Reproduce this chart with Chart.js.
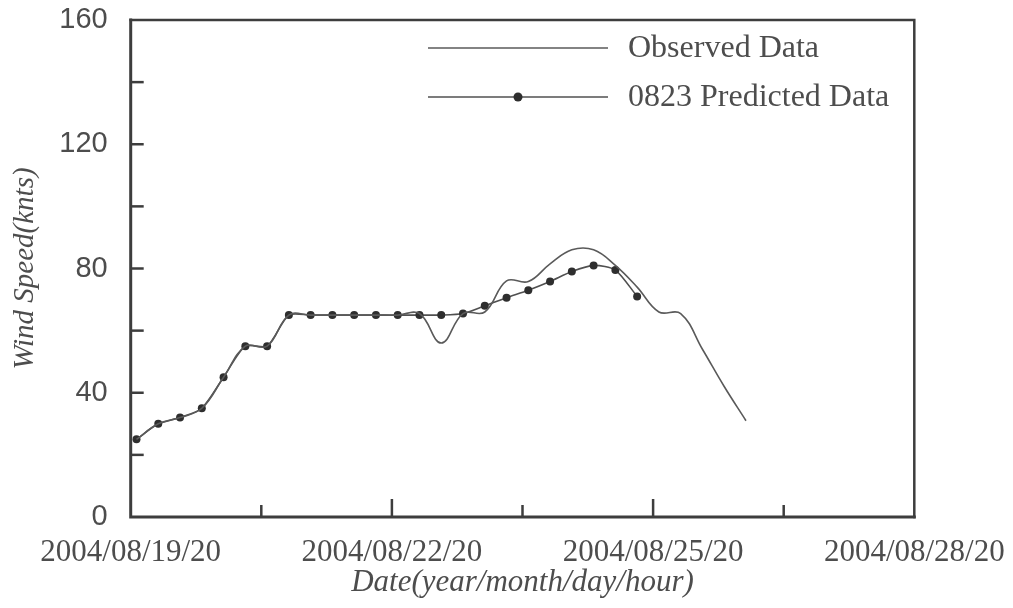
<!DOCTYPE html>
<html>
<head>
<meta charset="utf-8">
<script src="https://cdn.jsdelivr.net/npm/chart.js@4.4.1/dist/chart.umd.min.js"></script>
<style>
  html, body { margin: 0; padding: 0; background: #fff; }
</style>
</head>
<body>
<canvas id="myChart" width="1013" height="608"></canvas>
<script>
// hours after 2004/08/19/20
var tickHours = [0, 72, 144, 216];
var tickLabels = ["2004/08/19/20", "2004/08/22/20", "2004/08/25/20", "2004/08/28/20"];

var obsHours = [1.6, 7.6, 13.6, 19.6, 25.6, 31.6, 37.6, 43.6, 49.6, 55.6, 61.6, 67.6, 73.6, 79.6, 85.6,
                91.6, 97.6, 103.6, 109.6, 115.6, 121.6, 127.6, 133.6, 139.6, 145.6, 151.6, 157.6, 163.6, 169.6];
var observed = [25, 30, 32, 35, 45, 55, 55, 65, 65, 65, 65, 65, 65, 65.5, 56,
                65.5, 66, 76, 75.8, 81.5, 86, 86, 81, 74, 66, 65.5, 54, 42, 31];

var predHours = [1.6, 7.6, 13.6, 19.6, 25.6, 31.6, 37.6, 43.6, 49.6, 55.6, 61.6, 67.6, 73.6, 79.6, 85.6,
                 91.6, 97.6, 103.6, 109.6, 115.6, 121.6, 127.6, 133.6, 139.6];
var predicted = [25, 30, 32, 35, 45, 55, 55, 65, 65, 65, 65, 65, 65, 65, 65,
                 65.5, 68, 70.6, 73, 75.8, 79, 81, 79.5, 71];

function pairs(xs, ys) {
  return xs.map(function (x, i) { return { x: x, y: ys[i] }; });
}

var axisColor = "#3d3d3d";
var textColor = "#4d4d4d";

// box around the plot plus the short inward ticks
var framePlugin = {
  id: "frame",
  afterDraw: function (chart) {
    var ctx = chart.ctx, a = chart.chartArea;
    var xs = chart.scales.x, ys = chart.scales.y;
    ctx.save();
    ctx.strokeStyle = axisColor;
    ctx.lineCap = "square";
    ctx.lineWidth = 2.5;
    ctx.beginPath();
    ctx.moveTo(a.left, a.top); ctx.lineTo(a.right, a.top); ctx.lineTo(a.right, a.bottom);
    ctx.stroke();
    ctx.lineWidth = 3;
    ctx.beginPath();
    ctx.moveTo(a.left, a.top); ctx.lineTo(a.left, a.bottom); ctx.lineTo(a.right, a.bottom);
    ctx.stroke();

    ctx.lineWidth = 2.5;
    ctx.lineCap = "butt";
    ys.ticks.forEach(function (t) {
      if (t.value <= ys.min || t.value >= ys.max) return;
      var y = ys.getPixelForValue(t.value);
      ctx.beginPath(); ctx.moveTo(a.left, y); ctx.lineTo(a.left + 13, y); ctx.stroke();
    });
    xs.ticks.forEach(function (t) {
      if (t.value <= xs.min || t.value >= xs.max) return;
      var x = xs.getPixelForValue(t.value);
      var len = tickHours.indexOf(t.value) >= 0 ? 18 : 12;
      ctx.beginPath(); ctx.moveTo(x, a.bottom); ctx.lineTo(x, a.bottom - len); ctx.stroke();
    });
    ctx.restore();
  }
};

// legend inside the plot, top right
var legendPlugin = {
  id: "insideLegend",
  afterDraw: function (chart) {
    var ctx = chart.ctx;
    var rows = [48, 97];
    chart.data.datasets.forEach(function (ds, i) {
      var y = rows[i];
      ctx.save();
      ctx.strokeStyle = ds.borderColor;
      ctx.lineWidth = ds.borderWidth;
      ctx.beginPath(); ctx.moveTo(428, y); ctx.lineTo(608, y); ctx.stroke();
      if (ds.pointRadius > 0) {
        ctx.fillStyle = ds.pointBackgroundColor;
        ctx.beginPath(); ctx.arc(518, y, ds.pointRadius + 0.5, 0, Math.PI * 2); ctx.fill();
      }
      ctx.fillStyle = textColor;
      ctx.font = '32px "Liberation Serif"';
      ctx.textBaseline = "middle";
      ctx.fillText(ds.label, 628, y + 1);
      ctx.restore();
    });
  }
};

// keep the plot box where the layout padding puts it
function noLabelPadding(s) {
  s.paddingTop = 0; s.paddingBottom = 0; s.paddingLeft = 0; s.paddingRight = 0;
}

var ctx = document.getElementById("myChart");
var myChart = new Chart(ctx, {
  type: "line",
  data: {
    datasets: [
      {
        label: "Observed Data",
        data: pairs(obsHours, observed),
        borderColor: "#5a5a5a",
        borderWidth: 1.6,
        pointRadius: 0,
        tension: 0.4,
        fill: false
      },
      {
        label: "0823 Predicted Data",
        data: pairs(predHours, predicted),
        borderColor: "#505050",
        borderWidth: 1.6,
        pointRadius: 4,
        pointBackgroundColor: "#2e2e2e",
        pointBorderWidth: 0,
        tension: 0.25,
        fill: false
      }
    ]
  },
  options: {
    responsive: false,
    animation: false,
    layout: { padding: { top: 20, right: 98.7, left: 0, bottom: 0 } },
    plugins: { legend: { display: false }, tooltip: { enabled: false } },
    scales: {
      x: {
        type: "linear",
        min: 0,
        max: 216,
        grid: { display: false, drawTicks: false },
        border: { display: false },
        afterFit: function (s) { s.height = 91; noLabelPadding(s); },
        ticks: {
          stepSize: 36,
          autoSkip: false,
          maxRotation: 0,
          padding: 17,
          color: textColor,
          font: { family: "Liberation Serif", size: 31 },
          callback: function (v) {
            var i = tickHours.indexOf(v);
            return i >= 0 ? tickLabels[i] : "";
          }
        },
        title: {
          display: true,
          text: "Date(year/month/day/hour)",
          color: textColor,
          font: { family: "Liberation Serif", size: 31, style: "italic" },
          padding: { top: 0, bottom: 7 }
        }
      },
      y: {
        min: 0,
        max: 160,
        grid: { display: false, drawTicks: false },
        border: { display: false },
        afterFit: function (s) { s.width = 130.7; noLabelPadding(s); },
        ticks: {
          stepSize: 20,
          padding: 23,
          color: textColor,
          font: { family: "Liberation Sans", size: 29 },
          callback: function (v) { return v % 40 === 0 ? v : ""; }
        },
        title: {
          display: true,
          text: "Wind Speed(knts)",
          color: textColor,
          font: { family: "Liberation Serif", size: 29, style: "italic" },
          padding: { top: 8, bottom: 0 }
        }
      }
    }
  },
  plugins: [framePlugin, legendPlugin]
});
</script>
</body>
</html>
